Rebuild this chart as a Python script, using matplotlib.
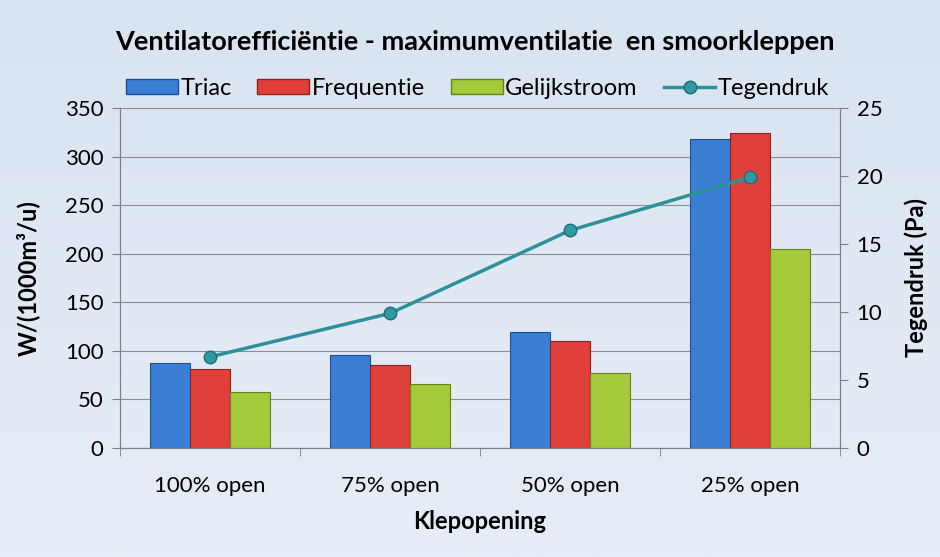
import numpy as np
import matplotlib
matplotlib.use("Agg")
import matplotlib.pyplot as plt
from matplotlib.lines import Line2D
from matplotlib.patches import Patch

plt.rcParams['font.family'] = ['Lato', 'DejaVu Sans']

# data
categories = ['100% open', '75% open', '50% open', '25% open']
triac = [88, 96, 119, 318]
frequentie = [81, 85, 110, 324]
gelijkstroom = [58, 66, 77, 205]
tegendruk = [6.7, 9.9, 16.0, 19.9]

series_names = ['Triac', 'Frequentie', 'Gelijkstroom']
bar_colors = ['#3b7fd4', '#e0403a', '#a5c93a']
edge_colors = ['#1f4f8f', '#8f201c', '#66801c']
line_color = '#2e9199'

fig = plt.figure(figsize=(9.4, 5.57), dpi=100)
fig.patch.set_facecolor('#dfe8f3')

# soft background gradient
bg = fig.add_axes([0, 0, 1, 1], zorder=-10)
grad = np.linspace(0, 1, 256).reshape(-1, 1)
bg.imshow(grad, aspect='auto', extent=[0, 1, 0, 1],
          cmap=matplotlib.colors.LinearSegmentedColormap.from_list('bg', ['#d9e4f1', '#e6edf6']))
bg.axis('off')

ax = fig.add_axes([0.1277, 0.1957, 0.7659, 0.6104])
ax.set_facecolor('none')
ax2 = ax.twinx()

x = np.arange(len(categories))
width = 0.222
for i, vals in enumerate([triac, frequentie, gelijkstroom]):
    ax.bar(x + (i - 1) * width, vals, width, color=bar_colors[i],
           edgecolor=edge_colors[i], linewidth=0.8, zorder=3)

ax2.plot(x, tegendruk, color=line_color, linewidth=2.5, marker='o',
         markersize=9, markerfacecolor='#2f9aa3', markeredgecolor='#1d6d73',
         zorder=5)

ax.set_xlim(-0.5, len(categories) - 0.5)
ax.set_ylim(0, 350)
ax.set_yticks(np.arange(0, 351, 50))
ax2.set_ylim(0, 25)
ax2.set_yticks(np.arange(0, 26, 5))

ax.set_xticks(x)
ax.set_xticklabels(categories, fontsize=16)
ax.set_xticks(np.arange(-0.5, len(categories), 1), minor=True)
ax.tick_params(axis='x', which='major', length=0, pad=20)
ax.tick_params(axis='x', which='minor', length=6, color='#808080')
ax.tick_params(axis='y', labelsize=16, length=6, color='#808080', pad=6)
ax2.tick_params(axis='y', labelsize=16, length=6, color='#808080', pad=6)

ax.grid(axis='y', color='#8c8c8c', linewidth=0.8, zorder=0)
ax.set_axisbelow(True)
for a in (ax, ax2):
    a.spines['top'].set_visible(False)
    for s in ('left', 'right', 'bottom'):
        a.spines[s].set_color('#808080')

ax.set_xlabel('Klepopening', fontsize=17, fontweight='bold', labelpad=10)
ax.set_ylabel('W/(1000m³/u)', fontsize=17, fontweight='bold', labelpad=18)
ax2.set_ylabel('Tegendruk (Pa)', fontsize=17, fontweight='bold', labelpad=16)

fig.text(0.505, 0.925, 'Ventilatorefficiëntie - maximumventilatie  en smoorkleppen',
         ha='center', va='center', fontsize=19.5, fontweight='bold')

handles = [Patch(facecolor=bar_colors[i], edgecolor=edge_colors[i]) for i in range(3)]
handles.append(Line2D([0], [0], color=line_color, linewidth=2.5, marker='o',
                      markersize=9, markerfacecolor='#2f9aa3', markeredgecolor='#1d6d73'))
fig.legend(handles, series_names + ['Tegendruk'], loc='center', ncol=4,
           bbox_to_anchor=(0.508, 0.842), frameon=False, fontsize=17,
           handlelength=2.2, handleheight=0.6, handletextpad=0.1, columnspacing=1.1)

fig.savefig('out.png', dpi=100, facecolor=fig.get_facecolor())
